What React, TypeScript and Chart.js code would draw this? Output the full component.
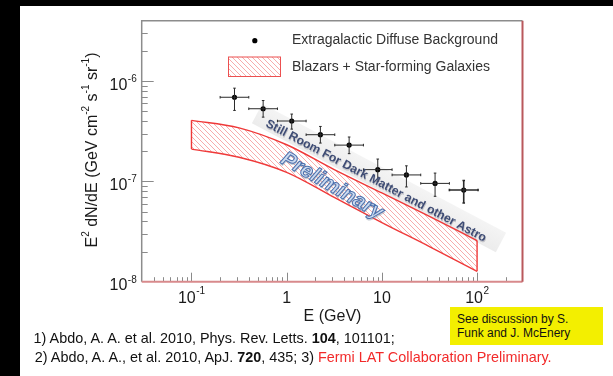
import React, { useEffect, useRef } from "react";
import { Chart, registerables } from "chart.js";
Chart.register(...registerables);

const FONT = '"Liberation Sans", Arial, Helvetica, sans-serif';

// ---- data ----
const edbEnergy = [0.283, 0.566, 1.13, 2.26, 4.53, 9.05, 18.1, 36.2, 72.4];
const edbEnergyLow = [0.2, 0.4, 0.8, 1.6, 3.2, 6.4, 12.8, 25.6, 51.2];
const edbEnergyHigh = [0.4, 0.8, 1.6, 3.2, 6.4, 12.8, 25.6, 51.2, 102.4];
const edbFlux = [6.9e-7, 5.3e-7, 4.0e-7, 2.92e-7, 2.3e-7, 1.31e-7, 1.16e-7, 9.55e-8, 8.2e-8];
const edbFluxLow = [5.1e-7, 4.37e-7, 3.32e-7, 2.41e-7, 1.89e-7, 1.0e-7, 8.8e-8, 7.1e-8, 6.1e-8];
const edbFluxHigh = [8.5e-7, 6.4e-7, 4.69e-7, 3.53e-7, 2.77e-7, 1.67e-7, 1.43e-7, 1.21e-7, 1.02e-7];

const bandEnergy = [0.1, 0.316, 1, 3.16, 10, 31.6, 100];
const bandUpper = [4.06e-7, 3.42e-7, 2.32e-7, 1.31e-7, 7.67e-8, 4.49e-8, 2.57e-8];
const bandLower = [2.1e-7, 1.74e-7, 1.23e-7, 6.92e-8, 3.89e-8, 2.24e-8, 1.27e-8];

const xMin = 0.03;
const xMax = 300;
const yMin = 1e-8;
const yMax = 4e-6;
const xMajorTicks = [0.1, 1, 10, 100];
const xTickLabels: [string, string][] = [["10", "-1"], ["1", ""], ["10", ""], ["10", "2"]];
const yMajorTicks = [1e-8, 1e-7, 1e-6];
const yTickLabels: [string, string][] = [["10", "-8"], ["10", "-7"], ["10", "-6"]];

const legendLabels = ["Extragalactic Diffuse Background", "Blazars + Star-forming Galaxies"];
const xTitle = "E (GeV)";
const yTitleParts: [string, boolean][] = [
  ["E", false], ["2", true], [" dN/dE (GeV cm", false], ["-2", true],
  [" s", false], ["-1", true], [" sr", false], ["-1", true], [")", false],
];
const annotationText = "Still Room For Dark Matter and other Astro";
const watermarkText = "Preliminary";

const BAND_RED = "#ef3838";

function makeHatch(): CanvasPattern | string {
  const c = document.createElement("canvas");
  c.width = 5;
  c.height = 5;
  const g = c.getContext("2d");
  if (!g) return "rgba(240,80,80,0.3)";
  g.strokeStyle = "rgba(240,95,95,0.62)";
  g.lineWidth = 0.85;
  g.beginPath();
  g.moveTo(-1, -1); g.lineTo(6, 6);
  g.moveTo(-1, 4); g.lineTo(1, 6);
  g.moveTo(4, -1); g.lineTo(6, 1);
  g.stroke();
  return g.createPattern(c, "repeat") || "rgba(240,80,80,0.3)";
}

function drawPow(ctx: CanvasRenderingContext2D, base: string, exp: string, x: number, baseline: number, align: "center" | "right", supRaise: number) {
  ctx.font = `16px ${FONT}`;
  const wb = ctx.measureText(base).width;
  ctx.font = `10px ${FONT}`;
  const we = exp ? ctx.measureText(exp).width + 0.5 : 0;
  const total = wb + we;
  const start = align === "center" ? x - total / 2 : x - total;
  ctx.textAlign = "left";
  ctx.textBaseline = "alphabetic";
  ctx.font = `16px ${FONT}`;
  ctx.fillText(base, start, baseline);
  if (exp) {
    ctx.font = `10px ${FONT}`;
    ctx.fillText(exp, start + wb + 0.5, baseline - supRaise);
  }
}

const decorPlugin = {
  id: "decor",
  beforeDraw(chart: any) {
    const { ctx } = chart;
    ctx.save();
    // light gray ribbon behind the annotation
    ctx.translate(379, 178);
    ctx.rotate((27.9 * Math.PI) / 180);
    const g = ctx.createLinearGradient(0, -11, 0, 11);
    g.addColorStop(0, "rgba(244,244,244,1)");
    g.addColorStop(1, "rgba(236,236,236,1)");
    ctx.fillStyle = g;
    ctx.fillRect(-138, -11, 276, 22);
    ctx.restore();
  },
  afterDatasetsDraw(chart: any) {
    const { ctx, scales } = chart;
    const x = scales.x;
    const y = scales.y;
    ctx.save();
    // error bars
    ctx.strokeStyle = "#2a2a2a";
    for (let i = 0; i < edbEnergy.length; i++) {
      const px = x.getPixelForValue(edbEnergy[i]);
      const py = y.getPixelForValue(edbFlux[i]);
      const x0 = x.getPixelForValue(edbEnergyLow[i]);
      const x1 = x.getPixelForValue(edbEnergyHigh[i]);
      const y0 = y.getPixelForValue(edbFluxLow[i]);
      const y1 = y.getPixelForValue(edbFluxHigh[i]);
      ctx.lineWidth = i === edbEnergy.length - 1 ? 1.6 : 1;
      ctx.beginPath();
      ctx.moveTo(x0, py); ctx.lineTo(x1, py);
      ctx.moveTo(px, y0); ctx.lineTo(px, y1);
      ctx.moveTo(x0, py - 1.3); ctx.lineTo(x0, py + 1.3);
      ctx.moveTo(x1, py - 1.3); ctx.lineTo(x1, py + 1.3);
      ctx.moveTo(px - 1.3, y0); ctx.lineTo(px + 1.3, y0);
      ctx.moveTo(px - 1.3, y1); ctx.lineTo(px + 1.3, y1);
      ctx.stroke();
    }
    // annotation text
    ctx.save();
    ctx.translate(376, 181);
    ctx.rotate((27.9 * Math.PI) / 180);
    ctx.font = `bold 12.2px ${FONT}`;
    ctx.textAlign = "center";
    ctx.textBaseline = "middle";
    ctx.fillStyle = "rgba(160,160,170,0.55)";
    ctx.fillText(annotationText, 1, 1.2);
    ctx.fillStyle = "#3e4c74";
    ctx.fillText(annotationText, 0, 0);
    ctx.restore();
    // watermark
    ctx.save();
    ctx.translate(332, 186);
    ctx.rotate((30 * Math.PI) / 180);
    ctx.font = `italic bold 21px ${FONT}`;
    ctx.textAlign = "center";
    ctx.textBaseline = "middle";
    ctx.fillStyle = "rgba(120,130,150,0.4)";
    ctx.fillText(watermarkText, 1.2, 1.5);
    ctx.fillStyle = "#cddbf0";
    ctx.fillText(watermarkText, 0, 0);
    ctx.strokeStyle = "#4b70ad";
    ctx.lineWidth = 1;
    ctx.strokeText(watermarkText, 0, 0);
    ctx.restore();
    ctx.restore();
  },
  afterDraw(chart: any) {
    const { ctx, chartArea: a, scales } = chart;
    const x = scales.x;
    const y = scales.y;
    ctx.save();
    // ticks (inside)
    ctx.strokeStyle = "#8a8a8a";
    ctx.lineWidth = 1;
    ctx.beginPath();
    for (let e = -3; e <= 3; e++) {
      for (let m = 1; m <= 9; m++) {
        const v = m * Math.pow(10, e);
        if (v > xMin * 1.001 && v < xMax * 0.999) {
          const px = Math.round(x.getPixelForValue(v)) + 0.5;
          const len = m === 1 ? 9 : 4.5;
          ctx.moveTo(px, a.bottom);
          ctx.lineTo(px, a.bottom - len);
        }
      }
    }
    for (let e = -9; e <= -5; e++) {
      for (let m = 1; m <= 9; m++) {
        const v = m * Math.pow(10, e);
        if (v > yMin * 1.001 && v < yMax * 0.999) {
          const py = Math.round(y.getPixelForValue(v)) + 0.5;
          const len = m === 1 ? 12 : 6;
          ctx.moveTo(a.left, py);
          ctx.lineTo(a.left + len, py);
        }
      }
    }
    ctx.stroke();
    // frame
    ctx.lineWidth = 1.5;
    ctx.strokeStyle = "#8c8c8c";
    ctx.beginPath();
    ctx.moveTo(a.left, a.bottom);
    ctx.lineTo(a.left, a.top);
    ctx.lineTo(a.right, a.top);
    ctx.stroke();
    ctx.lineWidth = 2;
    ctx.strokeStyle = "#d88a8c";
    ctx.beginPath();
    ctx.moveTo(a.left, a.bottom);
    ctx.lineTo(a.right, a.bottom);
    ctx.stroke();
    ctx.strokeStyle = "#b9585c";
    ctx.beginPath();
    ctx.moveTo(a.right, a.top);
    ctx.lineTo(a.right, a.bottom);
    ctx.stroke();

    // tick labels
    ctx.fillStyle = "#1a1a1a";
    xMajorTicks.forEach((v, i) => {
      const px = x.getPixelForValue(v);
      drawPow(ctx, xTickLabels[i][0], xTickLabels[i][1], px, a.bottom + 21.6, "center", 9);
    });
    yMajorTicks.forEach((v, i) => {
      const py = y.getPixelForValue(v);
      drawPow(ctx, yTickLabels[i][0], yTickLabels[i][1], a.left - 5, py + 8.5, "right", 7.5);
    });

    // x title
    ctx.font = `16px ${FONT}`;
    ctx.textAlign = "center";
    ctx.textBaseline = "alphabetic";
    ctx.fillText(xTitle, 332.5, 320.5);

    // y title
    ctx.save();
    ctx.translate(96.5, 150);
    ctx.rotate(-Math.PI / 2);
    let total = 0;
    for (const [t, sup] of yTitleParts) {
      ctx.font = sup ? `10px ${FONT}` : `16px ${FONT}`;
      total += ctx.measureText(t).width;
    }
    let cx = -total / 2;
    ctx.textAlign = "left";
    for (const [t, sup] of yTitleParts) {
      ctx.font = sup ? `10px ${FONT}` : `16px ${FONT}`;
      ctx.fillText(t, cx, sup ? -7.5 : 0);
      cx += ctx.measureText(t).width;
    }
    ctx.restore();

    // legend
    ctx.fillStyle = "#000";
    ctx.beginPath();
    ctx.arc(254.8, 40.7, 2.6, 0, Math.PI * 2);
    ctx.fill();
    const pat = makeHatch();
    ctx.fillStyle = pat;
    ctx.fillRect(228.5, 57, 52, 19.5);
    ctx.strokeStyle = "#ec5050";
    ctx.lineWidth = 1;
    ctx.strokeRect(228.5, 57, 52, 19.5);
    ctx.fillStyle = "#333";
    ctx.font = `14px ${FONT}`;
    ctx.textAlign = "left";
    ctx.textBaseline = "alphabetic";
    ctx.fillText(legendLabels[0], 292, 44.3);
    ctx.fillText(legendLabels[1], 292, 70.5);
    ctx.restore();
  },
};

export default function App() {
  const ref = useRef<HTMLCanvasElement | null>(null);
  useEffect(() => {
    if (!ref.current) return;
    const hatch = makeHatch();
    const chart = new Chart(ref.current, {
      type: "line",
      data: {
        datasets: [
          {
            label: legendLabels[0],
            data: edbEnergy.map((e, i) => ({ x: e, y: edbFlux[i] })),
            showLine: false,
            pointRadius: 2.6,
            pointBackgroundColor: "#000",
            pointBorderWidth: 0,
            borderColor: "#000",
          },
          {
            label: "edges",
            data: [
              { x: bandEnergy[0], y: bandUpper[0] },
              { x: bandEnergy[0], y: bandLower[0] },
              { x: 10, y: null },
              { x: bandEnergy[bandEnergy.length - 1], y: bandUpper[bandUpper.length - 1] },
              { x: bandEnergy[bandEnergy.length - 1], y: bandLower[bandLower.length - 1] },
            ],
            spanGaps: false,
            borderColor: BAND_RED,
            borderWidth: 1.4,
            pointRadius: 0,
            fill: false,
          },
          {
            label: "upper",
            data: bandEnergy.map((e, i) => ({ x: e, y: bandUpper[i] })),
            borderColor: BAND_RED,
            borderWidth: 1.4,
            pointRadius: 0,
            cubicInterpolationMode: "monotone",
            fill: 3,
            backgroundColor: hatch as any,
          },
          {
            label: "lower",
            data: bandEnergy.map((e, i) => ({ x: e, y: bandLower[i] })),
            borderColor: BAND_RED,
            borderWidth: 1.4,
            pointRadius: 0,
            cubicInterpolationMode: "monotone",
            fill: false,
          },
        ],
      } as any,
      options: {
        responsive: false,
        animation: false,
        devicePixelRatio: 1,
        layout: { padding: { left: 141.7, right: 90.5, top: 20.7, bottom: 94.3 } },
        scales: {
          x: { type: "logarithmic", min: xMin, max: xMax, display: false },
          y: { type: "logarithmic", min: yMin, max: yMax, display: false },
        },
        plugins: {
          legend: { display: false },
          tooltip: { enabled: false },
        },
        events: [],
      } as any,
      plugins: [decorPlugin],
    });
    return () => chart.destroy();
  }, []);

  return (
    <div style={{ position: "fixed", left: 0, top: 0, width: 613, height: 376, background: "#000", overflow: "hidden" }}>
      <div style={{ position: "absolute", left: 20, top: 6, right: 0, bottom: 0, background: "#fff" }} />
      <canvas ref={ref} width={613} height={376} style={{ position: "absolute", left: 0, top: 0, width: 613, height: 376 }} />
      <div
        style={{
          position: "absolute", left: 450.3, top: 306.7, width: 153, height: 38.3, boxSizing: "border-box",
          background: "#f3ef00", padding: "5.5px 0 0 6.7px", font: `12px ${FONT}`, lineHeight: "14px", color: "#111",
        }}
      >
        See discussion by S.<br />Funk and J. McEnery
      </div>
      <div style={{ position: "absolute", left: 33.6, top: 330.4, font: `14.4px ${FONT}`, lineHeight: "16px", color: "#111", whiteSpace: "nowrap" }}>
        1) Abdo, A. A. et al. 2010, Phys. Rev. Letts. <b>104</b>, 101101;
      </div>
      <div style={{ position: "absolute", left: 34.8, top: 349.4, font: `14.4px ${FONT}`, lineHeight: "16px", color: "#111", whiteSpace: "nowrap" }}>
        2) Abdo, A. A., et al. 2010, ApJ. <b>720</b>, 435; 3) <span style={{ color: "#f22a2a" }}>Fermi LAT Collaboration Preliminary.</span>
      </div>
    </div>
  );
}
